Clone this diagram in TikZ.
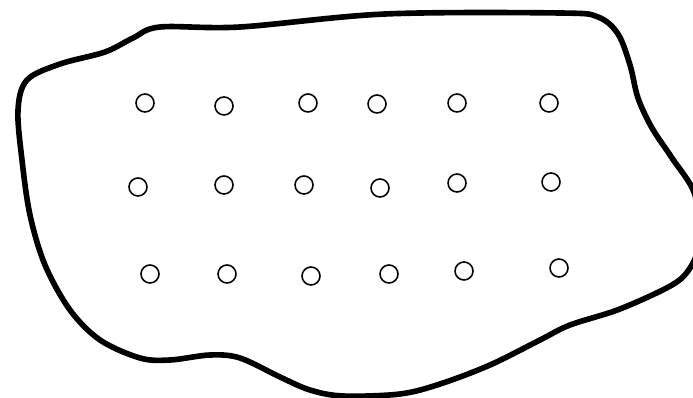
\documentclass[tikz,border=0pt]{standalone}
\usetikzlibrary{positioning}

\begin{document}
\begin{tikzpicture}[
  x=0.02cm, y=-0.02cm,
  hole/.style={draw, circle, line width=0.9pt, minimum size=0.36cm, inner sep=0pt},
  rim/.style={line width=3.2pt, line join=round}
]
\useasboundingbox (0,0) rectangle (693,398);
\clip (0,0) rectangle (693,398);

% outline of the region
\draw[rim] plot[smooth cycle, tension=0.55] coordinates {
  (18,110) (27,80) (60,64) (105,52) (133,38) (160,27) (240,27) (385,14)
  (560,13) (598,17) (618,34) (630,65) (638,98) (652,128) (672,158) (695,195)
  (698,245) (690,268) (672,285) (620,309) (570,325) (540,340) (490,365)
  (440,384) (400,394) (343,396) (310,390) (280,377) (240,358) (210,355)
  (170,360) (140,358) (100,340) (70,310) (45,265) (30,215) (22,160)};

% holes, row by row
\foreach \x/\y [count=\i] in {145/103, 224/106, 308/103, 377/104, 457/103, 549/103}
  \node[hole] (a\i) at (\x,\y) {};
\foreach \x/\y [count=\i] in {138/187, 224/185, 304/185, 380/188, 457/183, 551/182}
  \node[hole] (b\i) at (\x,\y) {};
\foreach \x/\y [count=\i] in {150/274, 227/274, 311/276, 389/274, 464/271, 559/268}
  \node[hole] (c\i) at (\x,\y) {};
\end{tikzpicture}
\end{document}
